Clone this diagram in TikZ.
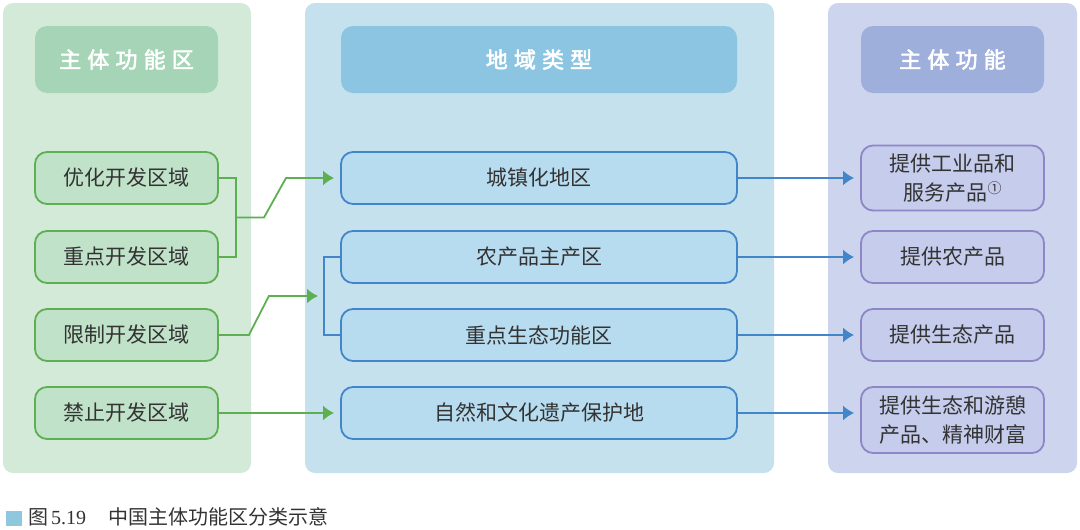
\documentclass[tikz,border=0pt]{standalone}
\usepackage{fontspec}
\setmainfont{Liberation Serif}
\newfontfamily\cjk{Noto Sans CJK SC}
\newfontfamily\cjkhead[LetterSpace=28,FakeBold=2.5]{Noto Sans CJK SC}
\usetikzlibrary{arrows.meta}

\definecolor{leftbg}{HTML}{D4EAD9}
\definecolor{lefthd}{HTML}{A5D4B6}
\definecolor{leftbx}{HTML}{BFE2C8}
\definecolor{leftln}{HTML}{5EAE52}
\definecolor{midbg}{HTML}{C5E1EE}
\definecolor{midhd}{HTML}{8CC5E1}
\definecolor{midbx}{HTML}{B8DCEF}
\definecolor{midln}{HTML}{4385C9}
\definecolor{rightbg}{HTML}{CCD4EE}
\definecolor{righthd}{HTML}{9FAFDC}
\definecolor{rightbx}{HTML}{C5CCEC}
\definecolor{rightln}{HTML}{8E86C6}
\definecolor{textgrey}{HTML}{333333}
\definecolor{capsq}{HTML}{8FC7DE}

\begin{document}
\begin{tikzpicture}[x=1pt,y=-1pt]
    \tikzstyle{panel}=[rounded corners=10pt]
    \tikzstyle{head}=[rounded corners=12pt,minimum width=183pt,minimum height=67pt,text=white,font=\cjkhead\fontsize{22}{22}\selectfont]
    \tikzstyle{box}=[draw,line width=1.8pt,rounded corners=12pt,minimum width=183pt,minimum height=52pt,inner sep=0pt,align=center,text=textgrey,font=\cjk\fontsize{21}{29}\selectfont]
    \tikzstyle{link}=[line width=1.8pt]
    \tikzstyle{arr}=[-{Latex[length=11pt,width=15pt]},shorten >=6pt]
    \useasboundingbox (0,0) rectangle (1080,530);

    \fill[panel,leftbg] (3,3) rectangle (251,473);
    \fill[panel,midbg] (305,3) rectangle (774,473);
    \fill[panel,rightbg] (828,3) rectangle (1077,473);

    \node[head,fill=lefthd] (hl) at (126.5,59.5) {主体功能区};
    \node[head,fill=midhd,minimum width=396pt] (hm) at (539,59.5) {地域类型};
    \node[head,fill=righthd] (hr) at (952.5,59.5) {主体功能};

    \node[box,draw=leftln,fill=leftbx] (yh) at (126.5,178) {优化开发区域};
    \node[box,draw=leftln,fill=leftbx] (zd) at (126.5,257) {重点开发区域};
    \node[box,draw=leftln,fill=leftbx] (xz) at (126.5,335) {限制开发区域};
    \node[box,draw=leftln,fill=leftbx] (jz) at (126.5,413) {禁止开发区域};

    \node[box,draw=midln,fill=midbx,minimum width=396pt] (czh) at (539,178) {城镇化地区};
    \node[box,draw=midln,fill=midbx,minimum width=396pt] (ncp) at (539,257) {农产品主产区};
    \node[box,draw=midln,fill=midbx,minimum width=396pt] (st) at (539,335) {重点生态功能区};
    \node[box,draw=midln,fill=midbx,minimum width=396pt] (zr) at (539,413) {自然和文化遗产保护地};

    \node[box,draw=rightln,fill=rightbx,minimum height=65pt] (gy) at (952.5,178) {提供工业品和\\服务产品\raisebox{7pt}{\fontsize{14}{14}\selectfont ①}};
    \node[box,draw=rightln,fill=rightbx] (ny) at (952.5,257) {提供农产品};
    \node[box,draw=rightln,fill=rightbx] (sc) at (952.5,335) {提供生态产品};
    \node[box,draw=rightln,fill=rightbx,minimum height=66pt] (yq) at (952.5,420) {提供生态和游憩\\产品、精神财富};

    \coordinate (b1) at (236,217.5);
    \coordinate (b2) at (324,296);
    \draw[link,leftln] (yh.east) -| (b1) |- (zd.east);
    \draw[link,leftln,arr] (b1) -- ++(28,0) -- ++(22,-39.5) -- (czh.west);
    \draw[link,midln] (ncp.west) -| (b2) |- (st.west);
    \draw[link,leftln,arr] (xz.east) -- ++(30,0) -- ++(20,-39) -- (b2);
    \draw[link,leftln,arr] (jz.east) -- (zr.west);

    \draw[link,midln,arr] (czh.east) -- (gy.west);
    \draw[link,midln,arr] (ncp.east) -- (ny.west);
    \draw[link,midln,arr] (st.east) -- (sc.west);
    \draw[link,midln,arr] (zr.east) -- (zr.east -| yq.west);

    \fill[capsq] (6,511) rectangle (22,526);
    \node[anchor=west,inner sep=0pt,text=textgrey,font=\fontsize{20}{20}\selectfont] (cap) at (28,517) {{\cjk 图}\hspace{3pt}5.19\hspace{22pt}{\cjk 中国主体功能区分类示意}};
\end{tikzpicture}
\end{document}
